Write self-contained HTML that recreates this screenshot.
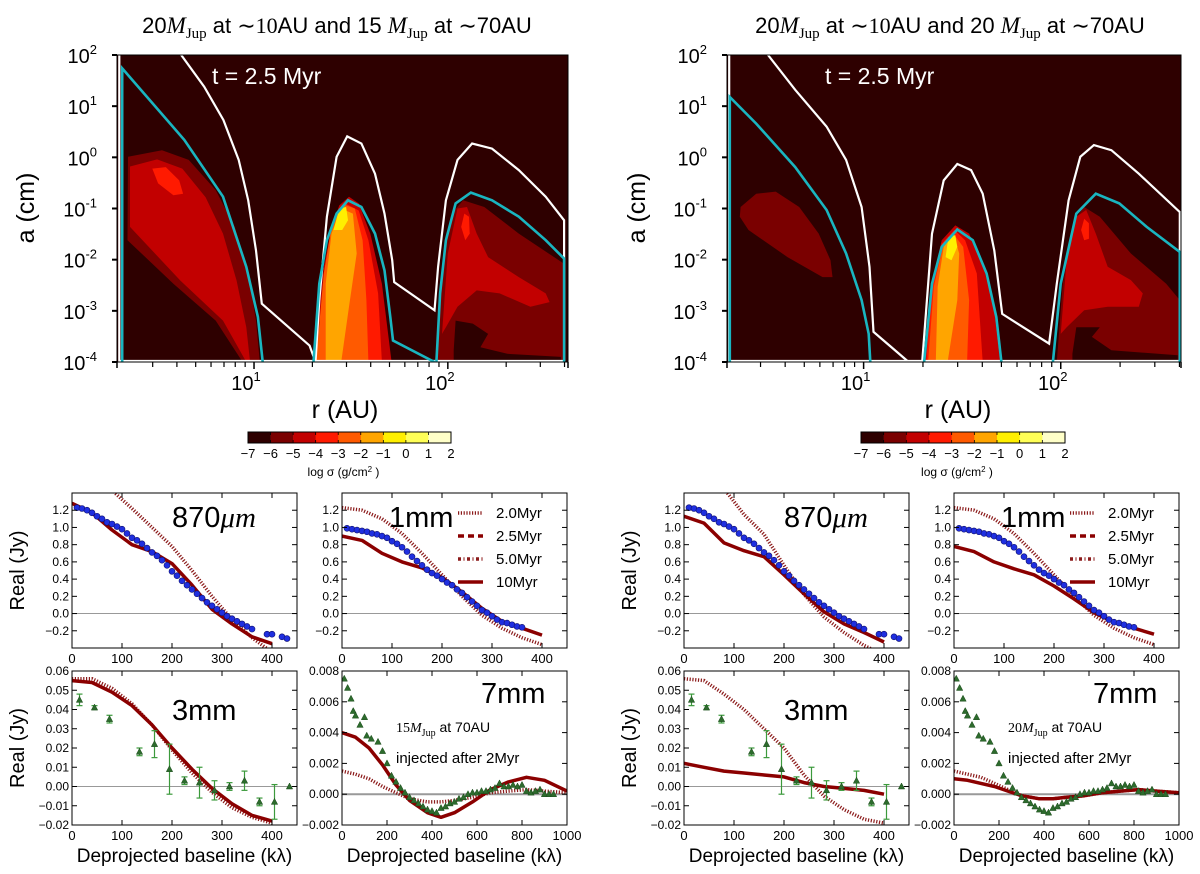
<!DOCTYPE html>
<html><head><meta charset="utf-8"><style>
body{margin:0;background:#fff}
svg{display:block;font-family:"Liberation Sans",sans-serif}
</style></head><body>
<svg id="fig" width="1200" height="874" viewBox="0 0 1200 874" xmlns="http://www.w3.org/2000/svg">
<g id="root"></g>
</svg>
<script>
// ---------- contour level colours (data: level bins) ----------
const levelLabels = ["−7","−6","−5","−4","−3","−2","−1","0","1","2"];
const levelColors = ["#2e0000","#7a0000","#c20000","#ff1a00","#ff5a00","#ffa500","#ffef00","#ffff57","#ffffc8"];
const xDecadeTicks = [1, 2];
const xMinorTicks = [3,4,5,6,7,8,9,20,30,40,50,60,70,80,90,200,300,400];
const yDecadeTicks = [2,1,0,-1,-2,-3,-4];

// ---------- left contour plot (log r, log a, level index) ----------
const L_fills = [
 [1,[[0.35,0.01],[0.525,0.14],[0.663,-0.05],[0.802,-0.64],[0.901,-1.36],[0.97,-2.27],[1.01,-3.19],[1.03,-4],[0.941,-4],[0.802,-3.19],[0.584,-2.47],[0.347,-1.62]]],
 [2,[[0.36,-0.18],[0.50,-0.04],[0.63,-0.22],[0.75,-0.78],[0.84,-1.49],[0.91,-2.41],[0.96,-3.32],[0.98,-4],[0.96,-4],[0.84,-3.19],[0.62,-2.41],[0.36,-1.36]]],
 [3,[[0.475,-0.22],[0.545,-0.19],[0.614,-0.45],[0.634,-0.71],[0.584,-0.74],[0.505,-0.51]]],
 [2,[[1.31,-4],[1.36,-2.14],[1.40,-1.36],[1.44,-0.94],[1.49,-0.77],[1.54,-0.90],[1.60,-1.49],[1.66,-2.47],[1.71,-4]]],
 [3,[[1.32,-4],[1.37,-2.14],[1.41,-1.23],[1.47,-0.90],[1.54,-1.04],[1.59,-1.62],[1.64,-2.66],[1.66,-4]]],
 [4,[[1.32,-4],[1.36,-2.27],[1.40,-1.36],[1.46,-0.92],[1.52,-1.00],[1.56,-1.62],[1.58,-2.79],[1.59,-4]]],
 [5,[[1.37,-4],[1.37,-2.47],[1.40,-1.49],[1.45,-1.00],[1.51,-1.10],[1.53,-1.88],[1.49,-2.92],[1.45,-4]]],
 [6,[[1.41,-1.42],[1.44,-1.00],[1.475,-0.97],[1.485,-1.23],[1.455,-1.42]]],
 [1,[[1.947,-4],[1.97,-2.14],[2.02,-1.10],[2.079,-0.84],[2.188,-0.97],[2.366,-1.49],[2.60,-2.08],[2.60,-4]]],
 [2,[[1.97,-3.45],[2.0,-1.88],[2.05,-1.0],[2.099,-0.97],[2.149,-1.49],[2.208,-1.95],[2.366,-2.34],[2.505,-2.66],[2.525,-2.83],[2.426,-2.92],[2.267,-2.66],[2.149,-2.60],[2.05,-2.92],[1.99,-3.32]]],
 [3,[[2.069,-1.36],[2.085,-1.10],[2.109,-1.16],[2.113,-1.49],[2.09,-1.62]]],
 [0,[[2.03,-3.77],[2.04,-3.19],[2.129,-3.25],[2.208,-3.45],[2.168,-3.71],[2.307,-3.84],[2.584,-3.90],[2.584,-3.97],[2.03,-3.97]]]
];
const L_cyan = [
 [[0.32,-4],[0.32,1.74],[0.64,0.34],[0.84,-0.77],[0.96,-2.14],[1.02,-3.12],[1.045,-4]],
 [[1.307,-4],[1.337,-2.47],[1.376,-1.62],[1.426,-1.10],[1.485,-0.84],[1.554,-0.97],[1.624,-1.49],[1.673,-2.21],[1.703,-3.12],[1.717,-3.58],[1.931,-4]],
 [[1.941,-4],[1.96,-2.66],[1.99,-1.62],[2.04,-0.90],[2.119,-0.69],[2.228,-0.84],[2.366,-1.16],[2.505,-1.62],[2.60,-1.98],[2.60,-4]]
];
const L_white = [
 [[0.305,2],[0.305,-3.98],[2.60,-3.98]],
 [[0.624,2],[0.743,1.38],[0.842,0.73],[0.921,-0.05],[0.97,-0.84],[1.01,-1.82],[1.04,-2.86],[1.287,-3.68],[1.317,-4],[1.337,-2.79],[1.376,-1.16],[1.426,0.01],[1.481,0.41],[1.554,0.27],[1.624,-0.32],[1.673,-1.10],[1.713,-2.01],[1.723,-2.44],[1.931,-2.99],[1.95,-2.14],[1.99,-0.84],[2.05,-0.05],[2.125,0.27],[2.228,0.17],[2.366,-0.25],[2.505,-0.77],[2.60,-1.23],[2.60,-3.98]]
];
// ---------- right contour plot ----------
const R_fills = [
 [1,[[0.376,-0.97],[0.455,-0.71],[0.554,-0.67],[0.673,-0.97],[0.772,-1.49],[0.832,-2.01],[0.842,-2.34],[0.792,-2.34],[0.614,-1.95],[0.416,-1.42],[0.372,-1.16]]],
 [2,[[1.311,-4],[1.343,-2.53],[1.396,-1.62],[1.465,-1.33],[1.535,-1.49],[1.604,-2.08],[1.663,-2.99],[1.693,-4]]],
 [3,[[1.317,-4],[1.347,-2.53],[1.396,-1.69],[1.461,-1.42],[1.515,-1.62],[1.574,-2.27],[1.604,-4]]],
 [4,[[1.327,-4],[1.356,-2.53],[1.402,-1.75],[1.455,-1.49],[1.505,-1.75],[1.535,-2.79],[1.525,-4]]],
 [5,[[1.366,-4],[1.376,-2.53],[1.406,-1.75],[1.455,-1.49],[1.485,-1.88],[1.475,-2.79],[1.426,-4]]],
 [6,[[1.416,-1.95],[1.43,-1.56],[1.465,-1.52],[1.475,-1.75],[1.446,-2.01]]],
 [1,[[1.98,-4],[2.01,-2.47],[2.069,-1.23],[2.119,-0.97],[2.198,-1.16],[2.356,-1.88],[2.535,-2.47],[2.604,-2.79],[2.604,-4]]],
 [2,[[2.0,-3.45],[2.03,-2.01],[2.079,-1.16],[2.129,-1.03],[2.178,-1.49],[2.238,-2.14],[2.356,-2.40],[2.416,-2.66],[2.396,-2.92],[2.238,-2.92],[2.119,-2.99],[2.03,-3.32]]],
 [3,[[2.103,-1.42],[2.119,-1.20],[2.143,-1.29],[2.143,-1.59],[2.119,-1.62]]],
 [0,[[2.059,-3.84],[2.079,-3.32],[2.198,-3.32],[2.158,-3.51],[2.257,-3.77],[2.594,-3.87],[2.594,-3.97],[2.059,-3.97]]]
];
const R_cyan = [
 [[0.321,-4],[0.321,1.18],[0.455,0.66],[0.653,-0.19],[0.812,-1.03],[0.911,-1.88],[0.99,-2.79],[1.026,-3.45],[1.034,-4]],
 [[1.307,-4],[1.347,-2.47],[1.396,-1.75],[1.475,-1.41],[1.554,-1.62],[1.624,-2.27],[1.673,-3.12],[1.699,-4]],
 [[1.96,-4],[2.0,-2.47],[2.079,-1.10],[2.178,-0.71],[2.297,-0.90],[2.436,-1.36],[2.604,-1.85],[2.604,-4]]
];
const R_white = [
 [[0.318,2],[0.318,-3.98],[2.604,-3.98]],
 [[0.515,2],[0.653,1.32],[0.812,0.60],[0.911,-0.05],[0.99,-0.97],[1.03,-2.14],[1.05,-3.41],[1.228,-4]],
 [[1.297,-4],[1.347,-1.49],[1.406,-0.45],[1.475,-0.13],[1.545,-0.25],[1.604,-0.71],[1.663,-1.82],[1.703,-3.06],[1.941,-3.64],[1.98,-2.47],[2.04,-0.84],[2.099,0.01],[2.168,0.24],[2.257,0.14],[2.396,-0.32],[2.604,-1.07],[2.604,-3.98]]
];

// ---------- visibility panels ----------
const blue870_x = [10,20,30,40,50,60,70,80,90,100,110,120,130,140,150,160,170,180,190,200,210,220,230,240,250,260,270,280,290,300,310,320,330,340,350,360,390,400,420,430];
const blue870_y = [1.23,1.22,1.20,1.17,1.13,1.10,1.06,1.04,1.01,0.98,0.93,0.88,0.85,0.81,0.76,0.71,0.67,0.62,0.56,0.49,0.44,0.38,0.33,0.28,0.23,0.18,0.13,0.09,0.05,0.01,-0.03,-0.06,-0.09,-0.12,-0.15,-0.18,-0.24,-0.24,-0.27,-0.29];
const blue1mm_x = [10,20,30,40,50,60,70,80,90,100,110,120,130,140,150,160,170,180,190,200,210,220,230,240,250,260,270,280,290,300,310,320,330,340,350,360];
const blue1mm_y = [0.99,0.98,0.97,0.96,0.95,0.93,0.92,0.90,0.88,0.84,0.81,0.77,0.72,0.66,0.61,0.56,0.51,0.47,0.44,0.40,0.36,0.33,0.28,0.24,0.19,0.14,0.09,0.04,0.01,-0.03,-0.07,-0.10,-0.11,-0.13,-0.15,-0.16];
const g3_x = [15,45,75,135,165,195,225,255,285,315,345,375,405,435];
const g3_y = [0.045,0.041,0.035,0.018,0.022,0.009,0.003,0.002,-0.002,0.000,0.003,-0.008,-0.008,0.000];
const g3_err = [0.003,0.001,0.002,0.002,0.007,0.013,0.002,0.008,0.005,0.002,0.005,0.002,0.009,0];
const g7_x = [10,25,40,50,60,80,100,110,130,160,180,200,220,240,260,280,300,320,340,360,380,400,420,440,460,480,500,520,540,560,580,600,620,640,660,680,700,720,740,760,780,800,820,840,860,880,900,920,940];
const g7_y = [0.0075,0.0069,0.0062,0.0054,0.0051,0.0045,0.0050,0.0038,0.0036,0.0034,0.0028,0.0020,0.0012,0.0008,0.0004,0.0001,-0.0002,-0.0004,-0.0006,-0.0008,-0.0010,-0.0011,-0.0012,-0.0009,-0.0008,-0.0006,-0.0005,-0.0003,-0.0002,0.0000,0.0001,0.0001,0.0002,0.0002,0.0003,0.0004,0.0007,0.0005,0.0005,0.0006,0.0005,0.0006,0.0002,0.0001,0.0002,0.0003,0.0000,0.0000,0.0000];

const m400_x = [0,40,80,120,160,200,240,280,320,360,400];
const m7_x = [0,60,120,180,240,300,380,440,500,580,660,740,820,900,1000];
// left set (15 MJup)
const L870_solid = [1.28,1.17,0.97,0.80,0.72,0.58,0.33,0.05,-0.12,-0.27,-0.35];
const L870_dot = [1.75,1.6,1.43,1.22,1.0,0.78,0.5,0.2,-0.07,-0.28,-0.45];
const L1mm_solid = [0.90,0.85,0.70,0.60,0.53,0.42,0.25,0.06,-0.09,-0.17,-0.25];
const L1mm_dot = [1.23,1.20,1.10,0.93,0.70,0.45,0.20,-0.02,-0.17,-0.28,-0.36];
const L3_solid = [0.055,0.054,0.049,0.042,0.032,0.020,0.009,-0.001,-0.009,-0.015,-0.018];
const L3_dot = [0.056,0.056,0.051,0.043,0.032,0.019,0.007,-0.003,-0.011,-0.016,-0.019];
const L7_solid = [0.0040,0.0037,0.0030,0.0019,0.0006,-0.0004,-0.0012,-0.0015,-0.0012,-0.0005,0.0003,0.0008,0.0011,0.0009,0.0002];
const L7_dot = [0.0015,0.0013,0.0010,0.0005,0.0001,-0.0003,-0.0005,-0.0005,-0.0004,-0.0002,0.0001,0.0002,0.0003,0.0002,0.0001];
// right set (20 MJup)
const R870_solid = [1.13,1.05,0.82,0.73,0.66,0.45,0.23,0.02,-0.12,-0.22,-0.33];
const R870_dot = [1.75,1.6,1.45,1.15,0.92,0.56,0.22,-0.04,-0.22,-0.37,-0.48];
const R1mm_solid = [0.78,0.72,0.60,0.52,0.45,0.32,0.17,0.01,-0.10,-0.17,-0.24];
const R1mm_dot = [1.23,1.20,1.10,0.93,0.70,0.45,0.20,-0.02,-0.17,-0.28,-0.36];
const R3_solid = [0.012,0.010,0.008,0.007,0.006,0.005,0.002,0.000,-0.001,-0.002,-0.004];
const R3_dot = [0.056,0.055,0.048,0.040,0.030,0.020,0.006,-0.005,-0.012,-0.017,-0.019];
const R7_solid = [0.0010,0.0009,0.0007,0.0005,0.0002,-0.0001,-0.0003,-0.0003,-0.0002,-0.0001,0.0001,0.0002,0.0003,0.0002,0.0001];
const R7_dot = [0.0015,0.0013,0.0011,0.0007,0.0003,-0.0001,-0.0003,-0.0003,-0.0002,-0.0001,0.0001,0.0002,0.0003,0.0002,0.0001];

const tick870 = [-0.2,0,0.2,0.4,0.6,0.8,1.0,1.2];
const tick870Labels = ["−0.2","0.0","0.2","0.4","0.6","0.8","1.0","1.2"];
const tick3 = [-0.02,-0.01,0,0.01,0.02,0.03,0.04,0.05,0.06];
const tick3Labels = ["−0.02","−0.01","0.00","0.01","0.02","0.03","0.04","0.05","0.06"];
const tick7 = [-0.002,0,0.002,0.004,0.006,0.008];
const tick7Labels = ["−0.002","0.000","0.002","0.004","0.006","0.008"];
const xt400 = [0,100,200,300,400];
const xt1000 = [0,200,400,600,800,1000];
const legendLabels = ["2.0Myr","2.5Myr","5.0Myr","10Myr"];

// ---------- drawing ----------
const NS = "http://www.w3.org/2000/svg";
const root = document.getElementById('root');
function el(tag, attrs, parent){
  const e = document.createElementNS(NS, tag);
  for (const k in attrs) e.setAttribute(k, attrs[k]);
  (parent||root).appendChild(e);
  return e;
}
function txt(s, attrs, parent){ const t = el('text', attrs, parent); t.textContent = s; return t; }

let clipId = 0;
function contourPlot(cfg, fills, cyan, white, name){
  const g = el('g', {});
  
  
  const X = v => cfg.x0 + (v - cfg.lr0) / (cfg.lr1 - cfg.lr0) * (cfg.x1 - cfg.x0);
  const Y = v => cfg.y0 + (cfg.la0 - v) / (cfg.la0 - cfg.la1) * (cfg.y1 - cfg.y0);
  const cid = 'c' + (clipId++);
  const cp = el('clipPath', {id: cid}, g);
  el('rect', {x: cfg.x0, y: cfg.y0, width: cfg.x1 - cfg.x0, height: cfg.y1 - cfg.y0}, cp);
  const bg = el('rect', {x: cfg.x0, y: cfg.y0, width: cfg.x1 - cfg.x0, height: cfg.y1 - cfg.y0, fill: levelColors[0]}, g);
  
  
  const inner = el('g', {'clip-path': 'url(#' + cid + ')'}, g);
  const toD = (pts, close) => pts.map((p, i) => (i ? 'L' : 'M') + X(p[0]).toFixed(1) + ',' + Y(p[1]).toFixed(1)).join('') + (close ? 'Z' : '');
  fills.forEach(f => {
    const p = el('path', {d: toD(f[1], true), fill: levelColors[f[0]]}, inner);
    
    
  });
  white.forEach(w => {
    const p = el('path', {d: toD(w, false), fill: 'none', stroke: '#fff', 'stroke-width': 2.2}, inner);
    
    
  });
  cyan.forEach(c => {
    const p = el('path', {d: toD(c, false), fill: 'none', stroke: '#19b5c0', 'stroke-width': 2.6}, inner);
    
    
  });
  el('rect', {x: cfg.x0, y: cfg.y0, width: cfg.x1 - cfg.x0, height: cfg.y1 - cfg.y0, fill: 'none', stroke: '#000', 'stroke-width': 1}, g);
  yDecadeTicks.forEach(v => {
    const y = Y(v);
    el('line', {x1: cfg.x0 - 5, x2: cfg.x0, y1: y, y2: y, stroke: '#000', 'stroke-width': 2}, g);
    const t = txt('10', {x: cfg.x0 - 20, y: y + 8, 'font-size': 20, 'text-anchor': 'end'}, g);
    const s = el('tspan', {dy: -9, 'font-size': 13}, t); s.textContent = (v < 0 ? '-' : '') + Math.abs(v);
    
    
  });
  xDecadeTicks.forEach(v => {
    const x = X(v);
    el('line', {x1: x, x2: x, y1: cfg.y1, y2: cfg.y1 + 7, stroke: '#000', 'stroke-width': 1.5}, g);
    const t = txt('10', {x: x - 8, y: cfg.y1 + 28, 'font-size': 20, 'text-anchor': 'middle'}, g);
    const s = el('tspan', {dy: -9, 'font-size': 13}, t); s.textContent = String(v);
    
    
  });
  xMinorTicks.forEach(v => {
    const x = X(Math.log10(v));
    if (x > cfg.x1) return;
    el('line', {x1: x, x2: x, y1: cfg.y1, y2: cfg.y1 + 5, stroke: '#000', 'stroke-width': 1.2}, g);
  });
  el('line', {x1: cfg.x0, x2: cfg.x0, y1: cfg.y1, y2: cfg.y1 + 6, stroke: '#000', 'stroke-width': 1.5}, g);
  el('line', {x1: cfg.x1, x2: cfg.x1, y1: cfg.y1, y2: cfg.y1 + 6, stroke: '#000', 'stroke-width': 1.5}, g);
  const tt = txt('t =  2.5 Myr', {x: cfg.tx, y: 84, 'font-size': 23, fill: '#fff'}, g);
  
  
  const yl = txt('a (cm)', {x: 0, y: 0, 'font-size': 25, 'text-anchor': 'middle', transform: 'translate(' + (cfg.ax) + ',208) rotate(-90)'}, g);
  
  
  const xl = txt('r (AU)', {x: cfg.rx, y: 418, 'font-size': 25, 'text-anchor': 'middle'}, g);
  
  
  const ti = txt('', {x: cfg.titleX, y: 33, 'font-size': 22, 'text-anchor': 'middle'}, g);
  
  
  const parts = [['20',0],['M',1],['Jup',2],[' at ',0],['∼10',3],['AU and ' + cfg.m2 + ' ',0],['M',1],['Jup',2],[' at ',0],['∼',3],['70AU',0]];
  parts.forEach(p => {
    const s = el('tspan', {}, ti);
    s.textContent = p[0];
    if (p[1] === 1) { s.setAttribute('font-family', '"Liberation Serif",serif'); s.setAttribute('font-style', 'italic'); s.setAttribute('font-size', 23); }
    if (p[1] === 2) { s.setAttribute('font-family', '"Liberation Serif",serif'); s.setAttribute('font-size', 15); s.setAttribute('dy', 5); }
    if (p[1] === 0 && p[0].startsWith(' at')) s.setAttribute('dy', -5);
    if (p[1] === 3) { s.setAttribute('font-family', '"Liberation Serif",serif'); }
  });
  const cb = el('g', {}, g);
  
  
  const w = (cfg.cb1 - cfg.cb0) / levelColors.length;
  levelColors.forEach((c, i) => el('rect', {x: cfg.cb0 + i * w, y: 432, width: w + 0.3, height: 11, fill: c}, cb));
  el('rect', {x: cfg.cb0, y: 432, width: cfg.cb1 - cfg.cb0, height: 11, fill: 'none', stroke: '#000', 'stroke-width': 1}, cb);
  levelLabels.forEach((l, i) => {
    const x = cfg.cb0 + i * w;
    el('line', {x1: x, x2: x, y1: 432, y2: 435, stroke: '#000', 'stroke-width': 0.8}, cb);
    el('line', {x1: x, x2: x, y1: 440, y2: 443, stroke: '#000', 'stroke-width': 0.8}, cb);
    const t = txt(l, {x: x, y: 458, 'font-size': 13, 'text-anchor': 'middle'}, cb);
    
    
  });
  const cl = txt('log σ (g/cm', {x: (cfg.cb0 + cfg.cb1) / 2 - 6, y: 476, 'font-size': 12, 'text-anchor': 'middle'}, cb);
  const sup = el('tspan', {dy: -4, 'font-size': 8}, cl); sup.textContent = '2';
  const cl2 = el('tspan', {dy: 4}, cl); cl2.textContent = ' )';
  
  
}

contourPlot({x0:117,x1:568,lr0:0.293,lr1:2.62,y0:55,y1:362,la0:2,la1:-4,tx:212,ax:34,rx:345,titleX:337,m2:'15',cb0:248,cb1:451}, L_fills, L_cyan, L_white, 'contour-plot-15mjup');
contourPlot({x0:727,x1:1181,lr0:0.307,lr1:2.61,y0:55,y1:362,la0:2,la1:-4,tx:825,ax:645,rx:958,titleX:950,m2:'20',cb0:861,cb1:1065}, R_fills, R_cyan, R_white, 'contour-plot-20mjup');

function panel(cfg){
  const g = el('g', {});
  
  
  const X = v => cfg.x0 + (v - cfg.xmin) / (cfg.xmax - cfg.xmin) * (cfg.x1 - cfg.x0);
  const Y = v => cfg.y1 - (v - cfg.ymin) / (cfg.ymax - cfg.ymin) * (cfg.y1 - cfg.y0);
  const cid = 'c' + (clipId++);
  const cp = el('clipPath', {id: cid}, g);
  el('rect', {x: cfg.x0, y: cfg.y0, width: cfg.x1 - cfg.x0, height: cfg.y1 - cfg.y0}, cp);
  const inner = el('g', {'clip-path': 'url(#' + cid + ')'}, g);
  const zl = el('line', {x1: cfg.x0, x2: cfg.x1, y1: Y(0), y2: Y(0), stroke: '#999', 'stroke-width': cfg.zw || 1}, inner);
  
  
  const line = (xs, ys, style, nm) => {
    const d = xs.map((x, i) => (i ? 'L' : 'M') + X(x).toFixed(1) + ',' + Y(ys[i]).toFixed(1)).join('');
    const p = el('path', Object.assign({d: d, fill: 'none'}, style), inner);
    
    
  };
  const dotStyle = {stroke: '#8b1a1a', 'stroke-width': 3.5, 'stroke-dasharray': '1.2,1.6'};
  const solidStyle = {stroke: '#8b0000', 'stroke-width': 3.5, 'stroke-linejoin': 'round'};
  if (cfg.dot) line(cfg.mx, cfg.dot, dotStyle, 'model-2.0myr');
  if (cfg.solid) line(cfg.mx, cfg.solid, solidStyle, 'model-10myr');
  if (cfg.blueX) cfg.blueX.forEach((x, i) => {
    const c = el('circle', {cx: X(x), cy: Y(cfg.blueY[i]), r: 3, fill: '#1f2fe0', stroke: '#101070', 'stroke-width': 0.6}, inner);
    
    
  });
  if (cfg.gX) cfg.gX.forEach((x, i) => {
    const px = X(x), py = Y(cfg.gY[i]);
    if (cfg.gE && cfg.gE[i] > 0) {
      const e1 = Y(cfg.gY[i] + cfg.gE[i]), e2 = Y(cfg.gY[i] - cfg.gE[i]);
      el('line', {x1: px, x2: px, y1: e1, y2: e2, stroke: '#3c9a3c', 'stroke-width': 1.2}, inner);
      el('line', {x1: px - 3, x2: px + 3, y1: e1, y2: e1, stroke: '#3c9a3c', 'stroke-width': 1.2}, inner);
      el('line', {x1: px - 3, x2: px + 3, y1: e2, y2: e2, stroke: '#3c9a3c', 'stroke-width': 1.2}, inner);
    }
    const t = el('path', {d: 'M' + px + ',' + (py - 3.5) + 'l3.2,6h-6.4z', fill: '#2d6b2d', stroke: '#1a4a1a', 'stroke-width': 0.5}, inner);
    
    
  });
  el('rect', {x: cfg.x0, y: cfg.y0, width: cfg.x1 - cfg.x0, height: cfg.y1 - cfg.y0, fill: 'none', stroke: '#000', 'stroke-width': 1}, g);
  cfg.yt.forEach((v, i) => {
    const y = Y(v);
    el('line', {x1: cfg.x0, x2: cfg.x0 + 5, y1: y, y2: y, stroke: '#000'}, g);
    el('line', {x1: cfg.x1 - 5, x2: cfg.x1, y1: y, y2: y, stroke: '#000'}, g);
    const t = txt(cfg.ytl[i], {x: cfg.x0 - 3, y: y + 4, 'font-size': 12, 'text-anchor': 'end'}, g);
    
    
  });
  cfg.xt.forEach(v => {
    const x = X(v);
    el('line', {x1: x, x2: x, y1: cfg.y1, y2: cfg.y1 - 5, stroke: '#000'}, g);
    el('line', {x1: x, x2: x, y1: cfg.y0, y2: cfg.y0 + 5, stroke: '#000'}, g);
    const t = txt(String(v), {x: x, y: cfg.y1 + 15, 'font-size': 13, 'text-anchor': 'middle'}, g);
    
    
  });
  if (cfg.big) {
    const t = txt(cfg.big, {x: cfg.bx, y: cfg.by, 'font-size': 29}, g);
    if (cfg.big === '870') { const s = el('tspan', {'font-family': '"Liberation Serif",serif', 'font-style': 'italic'}, t); s.textContent = 'μm'; }
    
    
  }
  if (cfg.yl) {
    const t = txt('Real (Jy)', {x: 0, y: 0, 'font-size': 20, 'text-anchor': 'middle', transform: 'translate(' + (cfg.x0 - 48) + ',' + ((cfg.y0 + cfg.y1) / 2) + ') rotate(-90)'}, g);
    
    
  }
  if (cfg.xl) {
    const t = txt('Deprojected baseline (kλ)', {x: (cfg.x0 + cfg.x1) / 2, y: 862, 'font-size': 19, 'text-anchor': 'middle'}, g);
    
    
  }
  if (cfg.legend) {
    const styles = [
      {stroke: '#8b1a1a', 'stroke-width': 3.5, 'stroke-dasharray': '1.2,1.6'},
      {stroke: '#8b0000', 'stroke-width': 3.5, 'stroke-dasharray': '6,4'},
      {stroke: '#8b1a1a', 'stroke-width': 3.5, 'stroke-dasharray': '3,2.5,1,2.5'},
      {stroke: '#8b0000', 'stroke-width': 3.5}];
    legendLabels.forEach((l, i) => {
      const y = 513 + i * 23;
      const lg = el('g', {}, g);
      
      
      el('line', Object.assign({x1: cfg.x0 + 116, x2: cfg.x0 + 141, y1: y, y2: y}, styles[i]), lg);
      txt(l, {x: cfg.x0 + 154, y: y + 5, 'font-size': 15}, lg);
    });
  }
  if (cfg.note) {
    const t = txt(cfg.note, {x: cfg.x0 + 54, y: 732, 'font-size': 14, 'font-family': '"Liberation Serif",serif'}, g);
    const m = el('tspan', {'font-style': 'italic'}, t); m.textContent = 'M';
    const s = el('tspan', {dy: 4, 'font-size': 10}, t); s.textContent = 'Jup';
    const r = el('tspan', {dy: -4, 'font-family': '"Liberation Sans",sans-serif'}, t); r.textContent = ' at 70AU';
    
    
    const t2 = txt('injected after 2Myr', {x: cfg.x0 + 54, y: 763, 'font-size': 15}, g);
    
    
  }
}

function group(ox, S, note){
  panel({name:'panel-870um', x0:72+ox, x1:297+ox, y0:493, y1:648, xmin:0, xmax:450, ymin:-0.4, ymax:1.4, yt:tick870, ytl:tick870Labels, xt:xt400,
    mx:m400_x, solid:S.s870, dot:S.d870, blueX:blue870_x, blueY:blue870_y, big:'870', bx:172+ox, by:527, yl:true});
  panel({name:'panel-1mm', x0:342+ox, x1:567+ox, y0:493, y1:648, xmin:0, xmax:450, ymin:-0.4, ymax:1.4, yt:tick870, ytl:tick870Labels, xt:xt400,
    mx:m400_x, solid:S.s1, dot:S.d1, blueX:blue1mm_x, blueY:blue1mm_y, big:'1mm', bx:389+ox, by:527, legend:true});
  panel({name:'panel-3mm', x0:72+ox, x1:297+ox, y0:671, y1:825, xmin:0, xmax:450, ymin:-0.02, ymax:0.06, yt:tick3, ytl:tick3Labels, xt:xt400,
    mx:m400_x, solid:S.s3, dot:S.d3, gX:g3_x, gY:g3_y, gE:g3_err, big:'3mm', bx:172+ox, by:720, yl:true, xl:true});
  panel({name:'panel-7mm', x0:342+ox, x1:567+ox, y0:671, y1:825, xmin:0, xmax:1000, ymin:-0.002, ymax:0.008, yt:tick7, ytl:tick7Labels, xt:xt1000,
    mx:m7_x, solid:S.s7, dot:S.d7, gX:g7_x, gY:g7_y, big:'7mm', bx:481+ox, by:703, xl:true, note:note, zw:2});
}
group(0, {s870:L870_solid,d870:L870_dot,s1:L1mm_solid,d1:L1mm_dot,s3:L3_solid,d3:L3_dot,s7:L7_solid,d7:L7_dot}, '15');
group(612, {s870:R870_solid,d870:R870_dot,s1:R1mm_solid,d1:R1mm_dot,s3:R3_solid,d3:R3_dot,s7:R7_solid,d7:R7_dot}, '20');
</script>
</body></html>
